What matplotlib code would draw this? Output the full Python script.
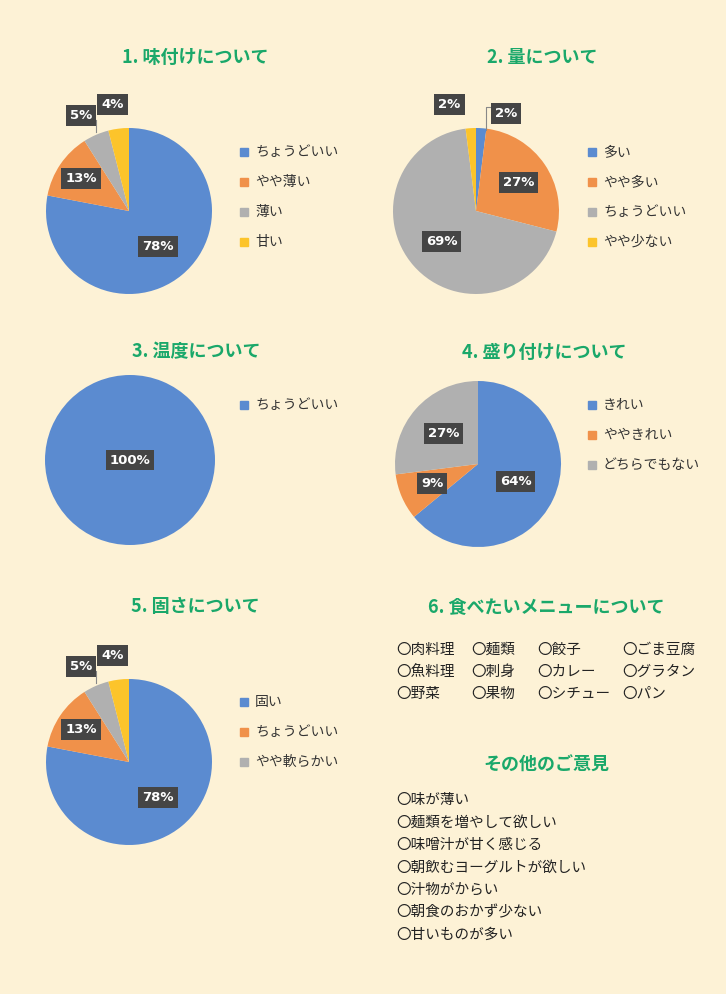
import numpy as np
import matplotlib.pyplot as plt
from matplotlib.patches import Rectangle

plt.rcParams["font.family"] = "Noto Sans CJK JP"

BG = "#fdf2d6"
GREEN = "#1aa86a"
COLORS = ["#5b8bd0", "#f0914a", "#b0b0b0", "#fcc42b"]

titles = ["1. 味付けについて", "2. 量について", "3. 温度について", "4. 盛り付けについて", "5. 固さについて"]
labels1 = ["ちょうどいい", "やや薄い", "薄い", "甘い"]
values1 = [78, 13, 5, 4]
labels2 = ["多い", "やや多い", "ちょうどいい", "やや少ない"]
values2 = [2, 27, 69, 2]
labels3 = ["ちょうどいい"]
values3 = [100]
labels4 = ["きれい", "ややきれい", "どちらでもない"]
values4 = [64, 9, 27]
labels5 = ["固い", "ちょうどいい", "やや軟らかい"]
values5 = [78, 13, 5, 4]

menu = [["〇肉料理", "〇麺類", "〇餃子", "〇ごま豆腐"],
        ["〇魚料理", "〇刺身", "〇カレー", "〇グラタン"],
        ["〇野菜", "〇果物", "〇シチュー", "〇パン"]]
opinions = ["〇味が薄い", "〇麺類を増やして欲しい", "〇味噌汁が甘く感じる",
            "〇朝飲むヨーグルトが欲しい", "〇汁物がからい", "〇朝食のおかず少ない",
            "〇甘いものが多い"]

W, H = 726, 994
fig = plt.figure(figsize=(W / 100, H / 100), dpi=100, facecolor=BG)


def px(x, y):
    return x / W, 1 - y / H


def draw_pie(cx, cy, r, values, names, title, title_y, dists, leg_x, leg_y, offsets=None):
    x0, y0 = px(cx - r, cy + r)
    ax = fig.add_axes([x0, y0, 2 * r / W, 2 * r / H])
    ax.set_facecolor(BG)
    wedges, _ = ax.pie(values, colors=COLORS[:len(values)], startangle=90,
                       counterclock=False, radius=1)
    ax.set_xlim(-1, 1)
    ax.set_ylim(-1, 1)
    ax.axis("off")
    for i, w in enumerate(wedges):
        ang = np.deg2rad((w.theta1 + w.theta2) / 2)
        d = dists[i]
        tx, ty = d * np.cos(ang), d * np.sin(ang)
        if offsets and i in offsets:
            tx, ty = offsets[i]
        ax.text(tx, ty, f"{values[i]}%", color="white", fontsize=9.5, fontweight="bold",
                ha="center", va="center", fontfamily="DejaVu Sans",
                bbox=dict(boxstyle="square,pad=0.3", fc="#454545", ec="none"),
                clip_on=False)
    tx, ty = px(cx + 66, title_y)
    fig.text(tx, ty, title, color=GREEN, fontsize=13, fontweight="bold", ha="center", va="center")
    for i, n in enumerate(names):
        lx, ly = px(leg_x, leg_y + i * 30)
        fig.patches.append(Rectangle((lx, ly - 4 / H), 8 / W, 8 / H, color=COLORS[i],
                                     transform=fig.transFigure, figure=fig))
        fig.text(lx + 15 / W, ly, n, fontsize=10, va="center", color="#333333")
    return ax


ax1 = draw_pie(129, 211, 83, values1, labels1, titles[0], 57, [0.55, 0.7, 1.3, 1.3], 240, 152,
               offsets={2: (-0.58, 1.15), 3: (-0.2, 1.28)})
ax1.plot([-0.4, -0.4], [0.95, 1.1], color="#888888", lw=0.8, clip_on=False)
ax2 = draw_pie(476, 211, 83, values2, labels2, titles[1], 57, [1.3, 0.62, 0.55, 1.3], 588, 152,
               offsets={0: (0.36, 1.18), 3: (-0.32, 1.28)})
ax2.plot([0.12, 0.12, 0.25], [0.97, 1.25, 1.25], color="#888888", lw=0.8, clip_on=False)
draw_pie(130, 460, 85, values3, labels3, titles[2], 352, [0.0], 240, 405)
draw_pie(478, 464, 83, values4, labels4, titles[3], 352, [0.5, 0.6, 0.55], 588, 405)
ax5 = draw_pie(129, 762, 83, values5, labels5, titles[4], 607, [0.55, 0.7, 1.3, 1.3], 240, 702,
               offsets={2: (-0.58, 1.15), 3: (-0.2, 1.28)})
ax5.plot([-0.4, -0.4], [0.95, 1.1], color="#888888", lw=0.8, clip_on=False)

fig.text(*px(546, 607), "6. 食べたいメニューについて", color=GREEN, fontsize=13,
         fontweight="bold", ha="center", va="center")
col_x = [396, 471, 537, 622]
for r, row in enumerate(menu):
    for c, item in enumerate(row):
        fig.text(*px(col_x[c], 650 + r * 22), item, fontsize=10.5, va="center", color="#222222")

fig.text(*px(546, 765), "その他のご意見", color=GREEN, fontsize=13,
         fontweight="bold", ha="center", va="center")
for i, op in enumerate(opinions):
    fig.text(*px(396, 800 + i * 22.5), op, fontsize=10.5, va="center", color="#222222")

fig.savefig("out.png", dpi=100, facecolor=BG)
